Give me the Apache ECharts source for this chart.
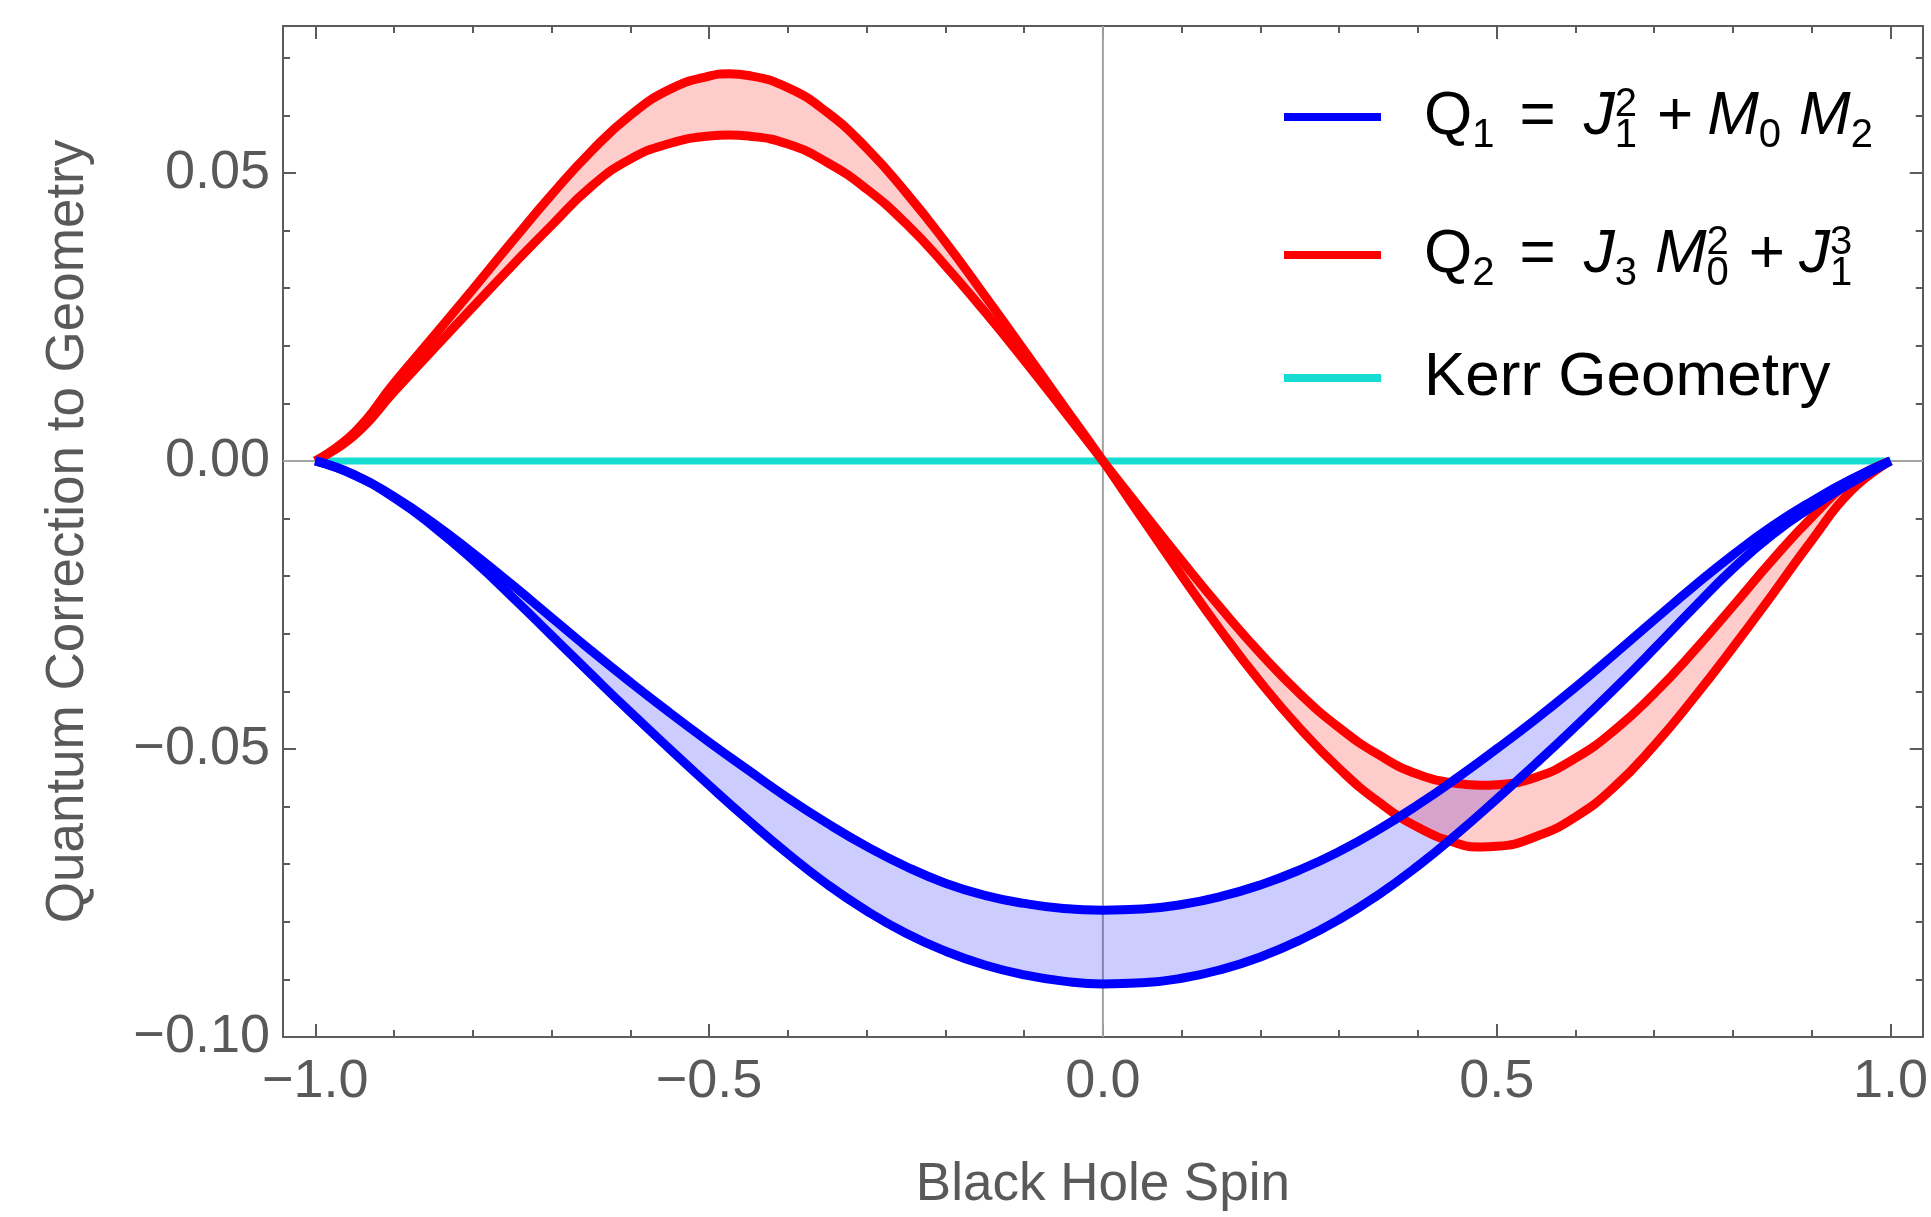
<!DOCTYPE html>
<html>
<head>
<meta charset="utf-8">
<script src="https://cdn.jsdelivr.net/npm/echarts@6/dist/echarts.min.js"></script>
<style>
  html, body { margin: 0; padding: 0; background: #ffffff; width: 1931px; height: 1217px; overflow: hidden; }
  #chart { position: absolute; left: 0; top: 0; width: 1931px; height: 1217px; }
</style>
</head>
<body>
<div id="chart"></div>
<script>
// Black hole spin samples for the Q1 band
const q1Spin = [-1.00,-0.95,-0.90,-0.85,-0.80,-0.75,-0.70,-0.65,-0.60,-0.55,-0.50,-0.45,-0.40,-0.35,-0.30,-0.25,-0.20,-0.15,-0.10,-0.05,
                0.00,0.05,0.10,0.15,0.20,0.25,0.30,0.35,0.40,0.45,0.50,0.55,0.60,0.65,0.70,0.75,0.80,0.85,0.90,0.95,1.00];

// Q1 = J1^2 + M0 M2 : upper and lower edges of the band
const q1Upper = [0,-0.0024,-0.0062,-0.0108,-0.0160,-0.0215,-0.0272,-0.0329,-0.0384,-0.0437,-0.0488,-0.0537,-0.0585,-0.0629,-0.0669,-0.0704,-0.0733,-0.0754,-0.0768,-0.0777,
                 -0.0780,-0.0778,-0.0770,-0.0756,-0.0736,-0.0710,-0.0678,-0.0640,-0.0597,-0.0550,-0.0500,-0.0448,-0.0393,-0.0335,-0.0276,-0.0218,-0.0163,-0.0113,-0.0070,-0.0032,0];
const q1Lower = [0,-0.0025,-0.0064,-0.0114,-0.0172,-0.0236,-0.0303,-0.0370,-0.0436,-0.0500,-0.0563,-0.0624,-0.0682,-0.0735,-0.0781,-0.0820,-0.0851,-0.0875,-0.0892,-0.0903,
                 -0.0908,-0.0906,-0.0898,-0.0883,-0.0861,-0.0832,-0.0796,-0.0753,-0.0703,-0.0647,-0.0587,-0.0525,-0.0461,-0.0395,-0.0326,-0.0255,-0.0187,-0.0128,-0.0080,-0.0038,0];

// Black hole spin samples for the Q2 band (extra samples at the turning points)
const q2Spin = [-1.00,-0.95,-0.90,-0.85,-0.80,-0.75,-0.70,-0.65,-0.60,-0.55,-0.50,-0.475,-0.45,-0.40,-0.35,-0.30,-0.25,-0.20,-0.15,-0.10,-0.05,
                0.00,0.05,0.10,0.15,0.20,0.25,0.30,0.35,0.40,0.45,0.48,0.50,0.55,0.60,0.65,0.70,0.75,0.80,0.85,0.90,0.95,1.00];

// Q2 = J3 M0^2 + J1^3 : the two edges of the band (they cross at zero spin)
const q2Outer = [0,0.0050,0.0135,0.0216,0.0298,0.0381,0.0462,0.0537,0.0600,0.0645,0.0668,0.0672,0.0669,0.0648,0.0605,0.0543,0.0466,0.0380,0.0287,0.0192,0.0096,
                 0,-0.0100,-0.0199,-0.0295,-0.0384,-0.0464,-0.0534,-0.0592,-0.0636,-0.0664,-0.0670,-0.0669,-0.0652,-0.0618,-0.0565,-0.0494,-0.0412,-0.0324,-0.0232,-0.0138,-0.0052,0];
const q2Inner = [0,0.0045,0.0120,0.0194,0.0267,0.0339,0.0409,0.0476,0.0524,0.0551,0.0564,0.0566,0.0564,0.0550,0.0518,0.0472,0.0412,0.0339,0.0259,0.0175,0.0088,
                 0,-0.0087,-0.0173,-0.0256,-0.0334,-0.0404,-0.0463,-0.0510,-0.0544,-0.0560,-0.0563,-0.0562,-0.0549,-0.0516,-0.0467,-0.0404,-0.0331,-0.0252,-0.0172,-0.0098,-0.0035,0];

// Kerr geometry: no correction
const kerrSpin = [-1, 1];
const kerrValues = [0, 0];

// Frame ticks
const xMajorTicks = [-1, -0.5, 0, 0.5, 1];
const xTickLabels = ['\u22121.0', '\u22120.5', '0.0', '0.5', '1.0'];
const xMinorTicks = [-0.9,-0.8,-0.7,-0.6,-0.4,-0.3,-0.2,-0.1,0.1,0.2,0.3,0.4,0.6,0.7,0.8,0.9];
const yMajorTicks = [-0.1, -0.05, 0, 0.05];
const yTickLabels = ['\u22120.10', '\u22120.05', '0.00', '0.05'];
const yMinorTicks = [-0.09,-0.08,-0.07,-0.06,-0.04,-0.03,-0.02,-0.01,0.01,0.02,0.03,0.04,0.06,0.07];

const X_MIN = -1.041, X_MAX = 1.041;
const Y_MIN = -0.1, Y_MAX = 0.0755;

const FONT = "'Liberation Sans', Arial, Helvetica, sans-serif";
const FRAME = '#5c5c5c';
const LABEL = '#595959';
const BLUE = '#0000ff';
const RED = '#ff0000';
const CYAN = '#16dcd2';

const pairs = (xs, ys) => xs.map((x, i) => [x, ys[i]]);
const labelFor = (ticks, labels) => v => {
  const i = ticks.findIndex(t => Math.abs(t - v) < 1e-9);
  return i >= 0 ? labels[i] : '';
};

function frameAxis(position, values, length, extra) {
  const horizontal = position === 'bottom' || position === 'top';
  return Object.assign({
    type: 'value',
    position: position,
    min: horizontal ? X_MIN : Y_MIN,
    max: horizontal ? X_MAX : Y_MAX,
    axisLine: { show: false, onZero: false },
    axisTick: { show: true, inside: true, length: length, customValues: values,
                lineStyle: { color: FRAME, width: 2 } },
    axisLabel: { show: false },
    splitLine: { show: false },
    minorTick: { show: false }
  }, extra || {});
}

const frameLine = { show: true, onZero: false, lineStyle: { color: FRAME, width: 2 } };

const xAxis = [
  frameAxis('bottom', xMajorTicks, 13, {
    axisLine: frameLine,
    axisLabel: { show: true, customValues: xMajorTicks, formatter: labelFor(xMajorTicks, xTickLabels),
                 margin: 18, fontSize: 54, color: LABEL, fontFamily: FONT },
    name: 'Black Hole Spin', nameLocation: 'middle', nameGap: 122,
    nameTextStyle: { fontSize: 53, color: LABEL, fontFamily: FONT }
  }),
  frameAxis('bottom', xMinorTicks, 7),
  frameAxis('top', xMajorTicks, 13, { axisLine: frameLine }),
  frameAxis('top', xMinorTicks, 7)
];

const yAxis = [
  frameAxis('left', yMajorTicks, 13, {
    axisLine: frameLine,
    axisLabel: { show: true, customValues: yMajorTicks, formatter: labelFor(yMajorTicks, yTickLabels),
                 margin: 13, fontSize: 54, color: LABEL, fontFamily: FONT },
    name: 'Quantum Correction to Geometry', nameLocation: 'middle', nameGap: 188, nameRotate: 90,
    nameTextStyle: { fontSize: 53, color: LABEL, fontFamily: FONT }
  }),
  frameAxis('left', yMinorTicks, 7),
  frameAxis('right', yMajorTicks, 13, { axisLine: frameLine }),
  frameAxis('right', yMinorTicks, 7)
];

// Shaded region between two edges, drawn as one polygon through the axis scales
function band(name, xs, edgeA, edgeB, fill) {
  return {
    type: 'custom', name: name, silent: true, z: 2,
    data: xs.map((x, i) => [x, edgeA[i], edgeB[i]]),
    encode: { x: 0, y: [1, 2] },
    renderItem: (params, api) => {
      if (params.dataIndex !== 0) return null;
      const forward = xs.map((x, i) => api.coord([x, edgeA[i]]));
      const back = xs.map((x, i) => api.coord([x, edgeB[i]])).reverse();
      return { type: 'polygon', shape: { points: forward.concat(back) }, style: { fill: fill } };
    }
  };
}

function curve(name, xs, values, color, z) {
  return { type: 'line', name: name, data: pairs(xs, values), smooth: true, symbol: 'none',
           color: color, lineStyle: { color: color, width: 9 }, z: z };
}

const series = [
  // coordinate axes through the origin
  { type: 'line', name: 'axis-x', data: [[X_MIN, 0], [X_MAX, 0]], symbol: 'none', silent: true,
    lineStyle: { color: '#a3a3a3', width: 2 }, z: 1 },
  { type: 'line', name: 'axis-y', data: [[0, Y_MIN], [0, Y_MAX]], symbol: 'none', silent: true,
    lineStyle: { color: '#a3a3a3', width: 2 }, z: 1 },
  band('Q1 band', q1Spin, q1Upper, q1Lower, 'rgba(0,0,255,0.2)'),
  band('Q2 band', q2Spin, q2Outer, q2Inner, 'rgba(255,0,0,0.2)'),
  { type: 'line', name: 'Kerr', data: pairs(kerrSpin, kerrValues), symbol: 'none',
    color: CYAN, lineStyle: { color: CYAN, width: 7 }, z: 3 },
  curve('Q2', q2Spin, q2Outer, RED, 4),
  curve('Q2', q2Spin, q2Inner, RED, 4),
  curve('Q1', q1Spin, q1Upper, BLUE, 5),
  curve('Q1', q1Spin, q1Lower, BLUE, 5)
];

const rich = {
  gap: { width: 38, fontSize: 62, verticalAlign: 'middle' },
  q:   { fontSize: 62, fontFamily: FONT, color: '#000', verticalAlign: 'middle' },
  it:  { fontSize: 62, fontFamily: FONT, fontStyle: 'italic', color: '#000', verticalAlign: 'middle' },
  eq:  { fontSize: 62, fontFamily: FONT, color: '#000', padding: [0, 28, 0, 25], verticalAlign: 'middle' },
  pl:  { fontSize: 62, fontFamily: FONT, color: '#000', padding: [0, 14, 0, 20], verticalAlign: 'middle' },
  sp:  { fontSize: 62, width: 18, verticalAlign: 'middle' },
  sub: { fontSize: 40, fontFamily: FONT, color: '#000', padding: [38, 0, 0, 0], verticalAlign: 'middle' },
  supz:{ fontSize: 40, fontFamily: FONT, color: '#000', padding: [0, 0, 24, 0], width: 0, verticalAlign: 'middle' },
  txt: { fontSize: 62, fontFamily: FONT, color: '#000', verticalAlign: 'middle' }
};

const legendText = {
  'Q1': '{gap| }{q|Q}{sub|1}{eq|=}{it|J}{supz|2}{sub|1}{pl|+}{it|M}{sub|0}{sp| }{it|M}{sub|2}',
  'Q2': '{gap| }{q|Q}{sub|2}{eq|=}{it|J}{sub|3}{sp| }{it|M}{supz|2}{sub|0}{pl|+}{it|J}{supz|3}{sub|1}',
  'Kerr': '{gap| }{txt|Kerr Geometry}'
};

function legendRow(name, top) {
  return {
    data: [name], left: 1279, top: top, orient: 'vertical',
    icon: 'rect', itemWidth: 97, itemHeight: 8, selectedMode: false,
    formatter: n => legendText[n],
    textStyle: { fontFamily: FONT, fontSize: 62, color: '#000', rich: rich }
  };
}

const chart = echarts.init(document.getElementById('chart'), null, { renderer: 'canvas', width: 1931, height: 1217 });
chart.setOption({
  backgroundColor: '#ffffff',
  animation: false,
  grid: { left: 283, right: 3, top: 26, bottom: 172, containLabel: false },
  legend: [legendRow('Q1', 80), legendRow('Q2', 218), legendRow('Kerr', 342)],
  xAxis: xAxis,
  yAxis: yAxis,
  series: series
});
</script>
</body>
</html>
